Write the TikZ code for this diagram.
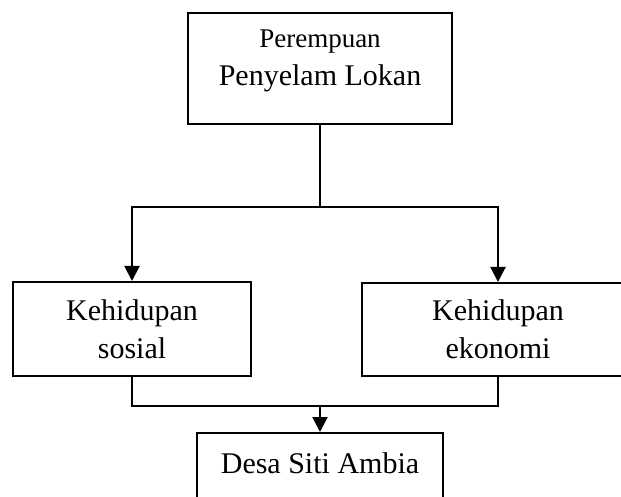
\documentclass[tikz,border=0pt]{standalone}
\usepackage{fontspec}
\setmainfont{Liberation Serif}
\usetikzlibrary{arrows.meta}

\begin{document}
\begin{tikzpicture}[x=0.5pt,y=-0.5pt]
            \tikzstyle{every node}+=[inner sep=0pt, font=\fontsize{15}{19}\selectfont]
            \tikzstyle{box}=[draw, line width=1pt]
            \tikzstyle{flow}=[line width=1pt]
            \tikzstyle{flowarrow}=[flow, -{Triangle[length=7.5pt,width=7.5pt]}]
            \useasboundingbox (0,0) rectangle (621,497);
            \node [box, minimum width=132pt, minimum height=55.5pt] (top) at (320,68.5) {};
            \node [align=center] (topText) at (320,60.5) {{\fontsize{13.5}{19}\selectfont Perempuan}\\Penyelam Lokan};
            \node [box, align=center, minimum width=119pt, minimum height=47pt] (left) at (132,329) {Kehidupan\\sosial};
            \node [box, align=center, minimum width=136pt, minimum height=46.5pt] (right) at (498,329.5) {Kehidupan\\ekonomi};
            \node [box, minimum width=123pt, minimum height=38.5pt] (bottom) at (320,471.5) {};
            \node (bottomText) at (320,463) {Desa Siti Ambia};
            \coordinate (fork) at (320,207);
            \coordinate (join) at (320,406);
            \draw [flow] (top.south) -- (fork);
            \draw [flowarrow] (fork) -| (left.north);
            \draw [flowarrow] (fork) -| (right.north);
            \draw [flow] (left.south) |- (join) -| (right.south);
            \draw [flowarrow] (join) -- (bottom.north);
\end{tikzpicture}
\end{document}
